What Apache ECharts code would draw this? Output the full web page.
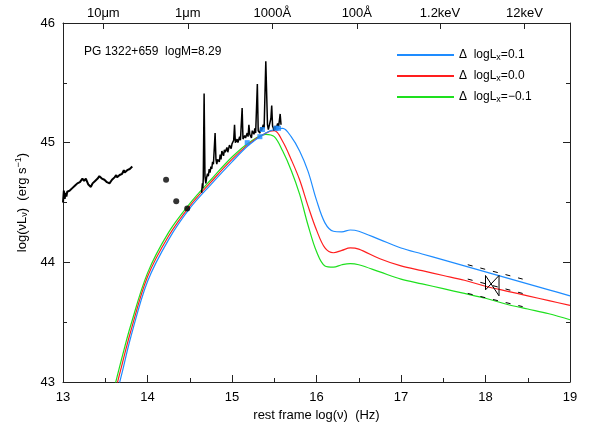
<!DOCTYPE html>
<html>
<head>
<meta charset="utf-8">
<script src="https://cdn.jsdelivr.net/npm/echarts@6/dist/echarts.min.js"></script>
<style>
  html, body { margin: 0; padding: 0; background: #fff; }
  #chart { width: 589px; height: 428px; }
</style>
</head>
<body>
<div id="chart"></div>
<script>
(function () {

    'use strict';

    // model grid in log(nu)
    var modelX = [13.6, 13.7, 13.8, 14.0, 14.25, 14.5, 14.75, 15.0, 15.2, 15.4, 15.5, 15.6, 15.7, 15.8, 15.9,
        16.0, 16.1, 16.2, 16.3, 16.4, 16.5, 16.75, 17.0, 17.25, 17.5, 17.75, 18.0, 18.25, 18.5, 18.75, 19.0];

    var modelPlus = [42.8, 43.08, 43.37, 43.84, 44.19, 44.45, 44.65, 44.84, 44.98, 45.08, 45.11, 45.12, 45.05, 44.93, 44.76,
        44.52, 44.33, 44.26, 44.255, 44.27, 44.26, 44.19, 44.12, 44.07, 44.02, 43.97, 43.92, 43.87, 43.82, 43.77, 43.72];
    var modelZero = [42.87, 43.15, 43.42, 43.88, 44.22, 44.47, 44.67, 44.86, 44.99, 45.08, 45.10, 45.01, 44.86, 44.69, 44.47,
        44.27, 44.12, 44.08, 44.10, 44.12, 44.11, 44.03, 43.97, 43.93, 43.89, 43.85, 43.80, 43.76, 43.72, 43.68, 43.64];
    var modelMinus = [42.93, 43.21, 43.47, 43.91, 44.25, 44.49, 44.69, 44.88, 45.00, 45.07, 45.05, 44.93, 44.77, 44.57, 44.31,
        44.09, 43.97, 43.96, 43.98, 43.99, 43.98, 43.92, 43.86, 43.82, 43.78, 43.74, 43.70, 43.65, 43.61, 43.57, 43.52];

    var modelNames = ['0.1', '0.0', '\u22120.1'];
    var modelColors = ['#1e8cff', '#ff1e1e', '#1ee01e'];

    // IR spectrum
    var irSpec = [
        [13.00, 44.50], [13.01, 44.60], [13.02, 44.53], [13.03, 44.58], [13.04, 44.55], [13.05, 44.59],
        [13.08, 44.60], [13.11, 44.62], [13.14, 44.64], [13.17, 44.66], [13.20, 44.67], [13.23, 44.70],
        [13.25, 44.68], [13.27, 44.70], [13.30, 44.65], [13.33, 44.63], [13.35, 44.66], [13.38, 44.68],
        [13.41, 44.70], [13.43, 44.72], [13.46, 44.70], [13.49, 44.69], [13.52, 44.67], [13.55, 44.66],
        [13.58, 44.69], [13.61, 44.71], [13.63, 44.73], [13.64, 44.71], [13.67, 44.73], [13.70, 44.74],
        [13.72, 44.77], [13.73, 44.75], [13.76, 44.77], [13.79, 44.78], [13.82, 44.80]
    ];

    // optical / UV spectrum
    var uvSpec = [
        [14.64, 44.58], [14.65, 44.66], [14.655, 44.62], [14.66, 44.70], [14.67, 45.41], [14.68, 44.72],
        [14.69, 44.66], [14.70, 44.71], [14.71, 44.74], [14.72, 44.72], [14.73, 44.78], [14.74, 44.75],
        [14.75, 44.80], [14.76, 44.78], [14.77, 44.84], [14.78, 44.82], [14.80, 45.08], [14.81, 44.86],
        [14.82, 44.82], [14.83, 44.86], [14.85, 44.84], [14.86, 44.90], [14.87, 44.86], [14.88, 44.93],
        [14.90, 44.89], [14.91, 44.94], [14.92, 44.92], [14.94, 44.96], [14.95, 44.92], [14.97, 44.98],
        [14.99, 44.95], [15.00, 44.99], [15.02, 45.02], [15.03, 45.15], [15.04, 45.00], [15.06, 45.03],
        [15.07, 45.00], [15.09, 45.05], [15.10, 45.02], [15.12, 45.29], [15.13, 45.03], [15.15, 45.06],
        [15.16, 45.04], [15.18, 45.08], [15.19, 45.05], [15.20, 45.15], [15.21, 45.07], [15.23, 45.04],
        [15.24, 45.10], [15.26, 45.07], [15.27, 45.12], [15.28, 45.08], [15.30, 45.49], [15.31, 45.10],
        [15.33, 45.08], [15.34, 45.13], [15.35, 45.10], [15.37, 45.15], [15.38, 45.12], [15.40, 45.68],
        [15.42, 45.15], [15.43, 45.11], [15.44, 45.14], [15.46, 45.20], [15.47, 45.31], [15.48, 45.14],
        [15.50, 45.10], [15.51, 45.14], [15.52, 45.11], [15.54, 45.16], [15.55, 45.13], [15.56, 45.18],
        [15.57, 45.24], [15.58, 45.15]
    ];

    var photDots = [[14.22, 44.69], [14.34, 44.51], [14.47, 44.45]];
    var uvPhot = [[15.18, 45.0], [15.33, 45.05], [15.36, 45.11], [15.52, 45.12], [15.55, 45.12]];

    // X-ray bowtie and its range lines
    var bowtie = [[18.0, 43.89], [18.16, 43.72], [18.16, 43.89], [18.0, 43.77], [18.0, 43.89]];
    var xrayUpper = [[17.79, 43.98], [18.44, 43.86]];
    var xrayMid = [[17.79, 43.86], [18.44, 43.74]];
    var xrayLower = [[17.79, 43.74], [18.44, 43.63]];

    var topTickValues = [13.477, 14.477, 15.477, 16.477, 17.462, 18.462];
    var topTickLabels = ['10\u03bcm', '1\u03bcm', '1000\u00c5', '100\u00c5', '1.2keV', '12keV'];

    var font = 'Liberation Sans, Arial, Helvetica, sans-serif';
    var axisColor = '#222';

    var chart = echarts.init(document.getElementById('chart'));

    function zip(xs, ys) {
        var out = [];
        for (var i = 0; i < xs.length; i++) {
            out.push([xs[i], ys[i]]);
        }
        return out;
    }

    var modelSeries = [modelPlus, modelZero, modelMinus].map(function (ys, i) {
        return {
            name: modelNames[i],
            type: 'line',
            data: zip(modelX, ys),
            smooth: 0.35,
            symbol: 'none',
            lineStyle: {color: modelColors[i], width: 1.2},
            itemStyle: {color: modelColors[i]},
            z: 3 - i
        };
    });

    function blackLine(data, width, type) {
        return {
            type: 'line',
            data: data,
            symbol: 'none',
            silent: true,
            lineStyle: {color: '#000', width: width, type: type || 'solid'},
            z: 5
        };
    }

    var option = {
        animation: false,
        backgroundColor: '#fff',
        textStyle: {fontFamily: font},
        grid: {left: 63, right: 19, top: 23, bottom: 46},
        legend: {
            orient: 'vertical',
            left: 391,
            top: 44,
            itemWidth: 57,
            itemHeight: 2,
            itemGap: 8,
            data: modelNames,
            formatter: function (name) {
                return '{t|\u0394  logL}{s|x}{t|=' + name + '}';
            },
            textStyle: {
                color: '#000',
                rich: {
                    t: {fontSize: 12, fontFamily: font, color: '#000'},
                    s: {fontSize: 9, fontFamily: font, color: '#000', padding: [5, 0, 0, 0]}
                }
            }
        },
        graphic: [{
            type: 'text',
            left: 84,
            top: 46,
            style: {text: 'PG 1322+659  logM=8.29', font: '12px ' + font, fill: '#000'}
        }],
        xAxis: [{
            type: 'value',
            min: 13,
            max: 19,
            interval: 1,
            position: 'bottom',
            name: 'rest frame log(\u03bd)  (Hz)',
            nameLocation: 'middle',
            nameGap: 26,
            nameTextStyle: {fontSize: 13, color: '#000'},
            axisLine: {onZero: false, lineStyle: {color: axisColor, width: 1}},
            axisTick: {inside: true, length: 7, lineStyle: {color: axisColor}},
            minorTick: {show: true, splitNumber: 2, length: 4, lineStyle: {color: axisColor}},
            splitLine: {show: false},
            axisLabel: {fontSize: 13, color: '#000', margin: 9}
        }, {
            type: 'value',
            min: 13,
            max: 19,
            position: 'top',
            axisLine: {onZero: false, lineStyle: {color: axisColor, width: 1}},
            axisTick: {inside: true, length: 6, customValues: topTickValues, lineStyle: {color: axisColor}},
            splitLine: {show: false},
            axisLabel: {
                customValues: topTickValues,
                fontSize: 13,
                color: '#000',
                margin: 3,
                formatter: function (v) {
                    var best = 0;
                    for (var i = 1; i < topTickValues.length; i++) {
                        if (Math.abs(topTickValues[i] - v) < Math.abs(topTickValues[best] - v)) {
                            best = i;
                        }
                    }
                    return topTickLabels[best];
                }
            }
        }],
        yAxis: [{
            type: 'value',
            min: 43,
            max: 46,
            interval: 1,
            position: 'left',
            name: '{a|log(\u03bdL}{s|\u03bd}{a|)  (erg s}{p|\u22121}{a|)}',
            nameLocation: 'middle',
            nameRotate: 90,
            nameGap: 33,
            nameTextStyle: {
                rich: {
                    a: {fontSize: 13, fontFamily: font, color: '#000'},
                    s: {fontSize: 9, fontFamily: font, color: '#000', padding: [6, 0, 0, 0]},
                    p: {fontSize: 9, fontFamily: font, color: '#000', padding: [0, 0, 7, 0]}
                }
            },
            axisLine: {onZero: false, lineStyle: {color: axisColor, width: 1}},
            axisTick: {inside: true, length: 7, lineStyle: {color: axisColor}},
            minorTick: {show: true, splitNumber: 2, length: 4, lineStyle: {color: axisColor}},
            splitLine: {show: false},
            axisLabel: {fontSize: 13, color: '#000', margin: 8}
        }, {
            type: 'value',
            min: 43,
            max: 46,
            interval: 1,
            position: 'right',
            axisLine: {show: true, onZero: false, lineStyle: {color: axisColor, width: 1}},
            axisTick: {show: true, inside: true, length: 7, lineStyle: {color: axisColor}},
            minorTick: {show: true, splitNumber: 2, length: 4, lineStyle: {color: axisColor}},
            splitLine: {show: false},
            axisLabel: {show: false}
        }],
        series: modelSeries.concat([
            blackLine(irSpec, 2),
            blackLine(uvSpec, 1.5),
            {
                type: 'scatter',
                data: photDots,
                symbol: 'circle',
                symbolSize: 6,
                itemStyle: {color: '#000'},
                z: 6
            },
            {
                type: 'scatter',
                data: uvPhot,
                symbol: 'rect',
                symbolSize: 5,
                itemStyle: {color: modelColors[0]},
                z: 7
            },
            blackLine(xrayUpper, 1, [5, 8]),
            blackLine(xrayMid, 1, [5, 8]),
            blackLine(xrayLower, 1, [5, 8]),
            blackLine(bowtie, 1)
        ])
    };

    chart.setOption(option);
}) ();
</script>
</body>
</html>
